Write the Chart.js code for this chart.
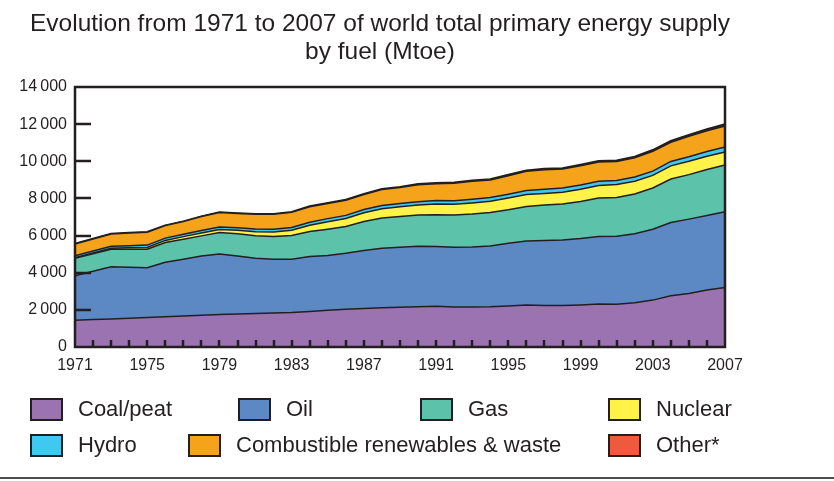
<!DOCTYPE html>
<html><head><meta charset="utf-8">
<script src="https://cdn.jsdelivr.net/npm/chart.js@4"></script>
<style>
html,body{margin:0;padding:0;background:#fff;}
#wrap{position:relative;width:834px;height:481px;overflow:hidden;font-family:"Liberation Sans",Arial,sans-serif;color:#231f20;}
#title{position:absolute;left:0;width:760px;top:9px;text-align:center;font-size:24.5px;line-height:27.5px;white-space:nowrap;}
canvas{position:absolute;left:0;top:0;}
.leg{position:absolute;display:flex;align-items:center;font-size:22px;white-space:nowrap;height:26px;}
.sw{box-sizing:border-box;width:33px;height:23px;border:2.5px solid #231f20;margin-right:15px;flex:none;}
#rule{position:absolute;left:0;width:834px;top:477px;height:2px;background:#4d4d4d;}
</style></head>
<body><div id="wrap">
<canvas id="c" width="834" height="481"></canvas>
<div id="title">Evolution from 1971 to 2007 of world total primary energy supply<br>by fuel (Mtoe)</div>
<div id="legend"></div>
<div id="rule"></div>
</div>
<script>
const years = [1971,1972,1973,1974,1975,1976,1977,1978,1979,1980,1981,1982,1983,1984,1985,1986,1987,1988,1989,1990,1991,1992,1993,1994,1995,1996,1997,1998,1999,2000,2001,2002,2003,2004,2005,2006,2007];
const coal = [1442,1478,1514,1550,1586,1630,1670,1710,1750,1780,1800,1830,1860,1915,1980,2030,2076,2120,2147,2165,2200,2160,2150,2165,2210,2255,2240,2230,2260,2309,2300,2380,2525,2760,2885,3065,3210];
const oil = [2398,2605,2812,2750,2686,2930,3055,3194,3262,3124,2978,2895,2865,2953,2942,3018,3116,3198,3225,3261,3208,3212,3230,3279,3378,3459,3500,3538,3580,3639,3666,3714,3820,3945,4000,4018,4073];
const gas = [938,937,938,965,992,1064,1079,1080,1152,1190,1206,1223,1277,1350,1423,1440,1568,1622,1658,1676,1712,1730,1776,1802,1802,1856,1902,1928,2000,2072,2090,2143,2215,2343,2397,2472,2522];
const nuclear = [29,40,53,75,100,115,140,160,165,186,220,245,280,340,400,430,465,505,520,540,575,580,600,605,630,640,630,640,660,675,690,690,680,705,715,720,700];
const hydro = [104,107,110,118,122,125,128,134,138,147,150,153,158,163,167,170,175,178,180,184,190,190,200,200,210,215,220,222,225,225,222,228,230,240,250,255,265];
const combustible = [637,651,661,676,693,672,680,744,770,755,791,797,809,832,818,819,811,856,853,916,910,940,963,939,994,1033,1055,1022,1033,1035,1019,1029,1070,1027,1093,1110,1133];
const other = [5,5,6,6,7,7,8,8,9,10,11,13,15,17,20,23,26,29,32,36,37,38,39,40,41,42,43,45,47,50,53,56,60,65,70,77,84];
const yTicks = [0,2000,4000,6000,8000,10000,12000,14000];
const xLabelYears = [1971,1975,1979,1983,1987,1991,1995,1999,2003,2007];

const FONT = '"Liberation Sans",Arial,sans-serif';
const INK = '#231f20';
const series = [
  {label:'Coal/peat', data:coal, color:'#9b73b0'},
  {label:'Oil', data:oil, color:'#5c89c4'},
  {label:'Gas', data:gas, color:'#5cc2aa'},
  {label:'Nuclear', data:nuclear, color:'#fff34a'},
  {label:'Hydro', data:hydro, color:'#3ec8f2'},
  {label:'Combustible renewables & waste', data:combustible, color:'#f6a31c'},
  {label:'Other*', data:other, color:'#ef5a3c'}
];
// legend layout: [left, centerY]
const legendPos = [[30,409],[238,409],[420,409],[608,409],[30,445],[188,445],[608,445]];

const frame = {id:'frame', afterDatasetsDraw(chart){
  const {ctx, chartArea:a, scales:{x,y}} = chart;
  ctx.save();
  ctx.strokeStyle = INK;
  ctx.lineWidth = 2.5;
  ctx.beginPath();
  yTicks.forEach(v=>{ if(v>0 && v<14000){ const py=Math.round(y.getPixelForValue(v)); ctx.moveTo(a.left, py); ctx.lineTo(a.left+16, py);} });
  years.forEach((yr,i)=>{ if(i>0 && i<years.length-1){ const px=Math.round(x.getPixelForValue(i)); ctx.moveTo(px, a.bottom); ctx.lineTo(px, a.bottom-7);} });
  ctx.stroke();
  ctx.lineWidth = 2.5;
  ctx.strokeRect(a.left, a.top, a.right-a.left, a.bottom-a.top);
  ctx.restore();
}};

new Chart(document.getElementById('c'), {
  type:'line',
  data:{
    labels: years.map(String),
    datasets: series.map((s,i)=>({
      label:s.label, data:s.data, backgroundColor:s.color, borderColor:INK,
      borderWidth: i===series.length-1 ? 2.2 : 1.5, fill: i===0 ? 'origin' : '-1',
      pointRadius:0, tension:0
    }))
  },
  options:{
    responsive:false, animation:false, devicePixelRatio:1,
    layout:{padding:{left:0,right:109,top:87,bottom:104}},
    plugins:{legend:{display:false}, title:{display:false}, tooltip:{enabled:false}},
    scales:{
      x:{type:'category', offset:false, grid:{display:false, drawTicks:false}, border:{display:false},
         ticks:{autoSkip:false, maxRotation:0, padding:9, color:INK, font:{family:FONT, size:16},
                callback:(v,i)=> xLabelYears.includes(years[i]) ? String(years[i]) : ''},
         afterFit:s=>{s.height=30;}},
      y:{stacked:true, min:0, max:14000, grid:{display:false, drawTicks:false}, border:{display:false},
         ticks:{stepSize:2000, padding:8, color:INK, font:{family:FONT, size:16},
                callback:v=> v===0 ? '0' : String(v/1000)+'\u202f000'},
         afterFit:s=>{s.width=75;}}
    }
  },
  plugins:[frame]
});

const leg = document.getElementById('legend');
series.forEach((s,i)=>{
  const d = document.createElement('div');
  d.className='leg';
  d.style.left = legendPos[i][0]+'px';
  d.style.top = (legendPos[i][1]-13)+'px';
  d.innerHTML = '<span class="sw" style="background:'+s.color+'"></span><span>'+s.label.replace('&','&amp;')+'</span>';
  leg.appendChild(d);
});
</script>
</body></html>
